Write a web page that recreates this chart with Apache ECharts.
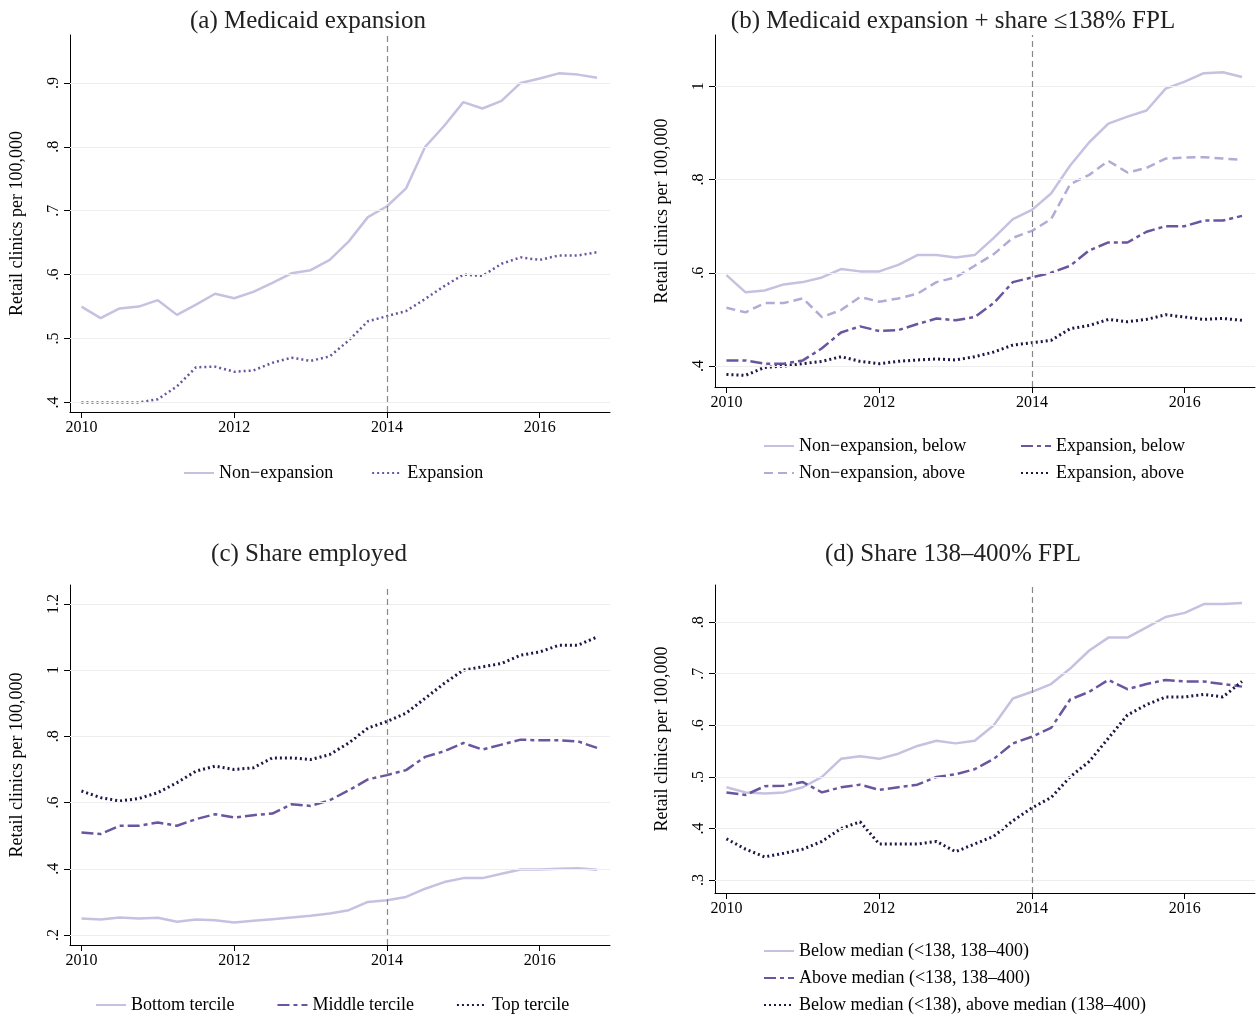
<!DOCTYPE html>
<html><head><meta charset="utf-8">
<script src="https://cdn.jsdelivr.net/npm/echarts@6/dist/echarts.min.js"></script>
<style>body{margin:0}#main{width:1259px;height:1015px}</style>
</head><body><div id="main"></div>
<script>
// quarters 2010.00 .. 2016.75
var quarters = [];
for (var i = 0; i < 28; i++) quarters.push(2010 + i * 0.25);
var xTicks = [2010, 2012, 2014, 2016];

var aNonExp = [.55,.532,.547,.55,.56,.537,.553,.57,.563,.573,.587,.602,.607,.623,.652,.69,.707,.735,.80,.833,.87,.86,.872,.90,.907,.915,.913,.908];
var aExp = [.40,.40,.40,.40,.405,.425,.455,.456,.448,.45,.462,.47,.465,.472,.497,.527,.535,.543,.562,.582,.60,.598,.617,.627,.623,.63,.63,.635];

var bNonBelow = [.595,.558,.562,.575,.58,.59,.608,.603,.603,.617,.638,.638,.633,.638,.675,.715,.735,.77,.83,.88,.92,.935,.948,.995,1.01,1.028,1.03,1.02];
var bNonAbove = [.525,.515,.535,.535,.545,.505,.52,.548,.538,.545,.555,.58,.59,.615,.64,.675,.69,.715,.79,.81,.84,.815,.825,.845,.847,.848,.845,.842];
var bExpBelow = [.412,.412,.405,.405,.412,.438,.472,.485,.475,.477,.49,.502,.498,.505,.535,.58,.59,.60,.615,.648,.665,.665,.688,.70,.70,.712,.712,.722];
var bExpAbove = [.382,.38,.397,.4,.405,.41,.42,.41,.405,.41,.413,.415,.413,.42,.43,.445,.45,.455,.48,.487,.5,.495,.5,.51,.505,.5,.502,.498];

var cBottom = [.25,.247,.253,.25,.252,.24,.247,.245,.238,.243,.248,.253,.258,.265,.275,.30,.305,.315,.34,.36,.372,.372,.385,.398,.398,.40,.402,.397];
var cMiddle = [.51,.505,.53,.53,.54,.53,.55,.565,.555,.562,.567,.595,.59,.607,.637,.67,.683,.698,.738,.755,.78,.76,.775,.79,.788,.788,.785,.765];
var cTop = [.635,.615,.605,.612,.63,.66,.695,.71,.7,.705,.735,.735,.73,.745,.78,.825,.845,.87,.915,.96,1.0,1.01,1.02,1.045,1.055,1.075,1.075,1.1];

var dBelow = [.48,.47,.468,.47,.48,.5,.535,.54,.535,.545,.56,.57,.565,.57,.6,.652,.665,.68,.71,.745,.77,.77,.79,.81,.818,.835,.835,.837];
var dAbove = [.47,.465,.482,.483,.49,.47,.48,.485,.475,.48,.485,.5,.505,.515,.535,.565,.578,.595,.65,.665,.688,.67,.68,.688,.685,.685,.68,.675];
var dMixed = [.38,.36,.345,.352,.36,.375,.4,.413,.37,.37,.37,.375,.355,.37,.385,.415,.44,.46,.5,.53,.575,.62,.64,.655,.655,.66,.655,.685];

var C1 = '#c6c1e0', C2 = '#b2abd6', C3 = '#6a559f', C4 = '#1d1646';
var serif = 'Liberation Serif';
var solid = 'solid', dash = [9, 5], dashDot = [12, 4, 4, 4], dot = [2, 3];

function pairs(v) { return v.map(function (y, i) { return [quarters[i], y]; }); }
function fmt(v) { var s = String(Math.round(v * 10) / 10); return s.replace(/^0\./, '.'); }

var grids = [
  {left: 70, top: 35, width: 540, height: 377},
  {left: 715, top: 35, width: 540, height: 352},
  {left: 70, top: 585, width: 540, height: 360},
  {left: 715, top: 585, width: 540, height: 308}
];
var yr = [[.385, .975, [.4,.5,.6,.7,.8,.9]], [.355, 1.11, [.4,.6,.8,1]], [.17, 1.257, [.2,.4,.6,.8,1,1.2]], [.275, .872, [.3,.4,.5,.6,.7,.8]]];

var xAxis = grids.map(function (g, i) {
  return {type: 'value', gridIndex: i, min: 2009.85, max: 2016.92,
    axisLine: {show: true, onZero: false, lineStyle: {color: '#000'}},
    axisTick: {show: true, length: 6, customValues: xTicks, lineStyle: {color: '#000'}},
    axisLabel: {customValues: xTicks, color: '#000', fontFamily: serif, fontSize: 16, margin: 8, formatter: function (v) { return String(v); }},
    splitLine: {show: false}};
});
var yAxis = grids.map(function (g, i) {
  return {type: 'value', gridIndex: i, min: yr[i][0], max: yr[i][1],
    name: 'Retail clinics per 100,000', nameLocation: 'middle', nameGap: 44, nameRotate: 90,
    nameTextStyle: {fontFamily: serif, fontSize: 18, color: '#000'},
    axisLine: {show: true, lineStyle: {color: '#000'}},
    axisTick: {show: true, length: 6, customValues: yr[i][2], lineStyle: {color: '#000'}},
    axisLabel: {customValues: yr[i][2], rotate: 90, color: '#000', fontFamily: serif, fontSize: 16, margin: 8, formatter: fmt},
    splitLine: {show: false}};
});

var series = [];
function add(gi, name, data, color, type, width) {
  series.push({type: 'line', name: name, xAxisIndex: gi, yAxisIndex: gi, data: pairs(data),
    symbol: 'none', lineStyle: {color: color, type: type, width: width || 2.5}, itemStyle: {color: color}});
}
// gridlines + 2014 reference line
yr.forEach(function (r, gi) {
  series.push({type: 'line', xAxisIndex: gi, yAxisIndex: gi, data: [], silent: true,
    markLine: {symbol: 'none', silent: true, label: {show: false},
      data: r[2].map(function (v) { return {yAxis: v, lineStyle: {color: '#eeeeee', type: 'solid', width: 1}}; })
        .concat([{xAxis: 2014, lineStyle: {color: '#888', type: [6, 4], width: 1.2}}])}});
});
add(0, 'Non\u2212expansion', aNonExp, C1, solid);
add(0, 'Expansion', aExp, C3, dot, 2.5);
add(1, 'Non\u2212expansion, below', bNonBelow, C1, solid);
add(1, 'Non\u2212expansion, above', bNonAbove, C2, dash);
add(1, 'Expansion, below', bExpBelow, C3, dashDot);
add(1, 'Expansion, above', bExpAbove, C4, dot, 3);
add(2, 'Bottom tercile', cBottom, C1, solid);
add(2, 'Middle tercile', cMiddle, C3, dashDot);
add(2, 'Top tercile', cTop, C4, dot, 3);
add(3, 'Below median (<138, 138\u2013400)', dBelow, C1, solid);
add(3, 'Above median (<138, 138\u2013400)', dAbove, C3, dashDot);
add(3, 'Below median (<138), above median (138\u2013400)', dMixed, C4, dot, 3);

function legend(names, pos, orient, gap) {
  return Object.assign({data: names, orient: orient || 'horizontal', itemWidth: 30, itemHeight: 10, itemGap: gap || 22,
    height: 200, width: 600, itemStyle: {opacity: 0},
    textStyle: {fontFamily: serif, fontSize: 18, color: '#000'}}, pos);
}
var legends = [
  legend(['Non\u2212expansion', 'Expansion'], {left: 178, top: 459}, 'horizontal', 38),
  legend(['Non\u2212expansion, below', 'Non\u2212expansion, above'], {left: 758, top: 432}, 'vertical', 9),
  legend(['Expansion, below', 'Expansion, above'], {left: 1015, top: 432}, 'vertical', 9),
  legend(['Bottom tercile', 'Middle tercile', 'Top tercile'], {left: 90, top: 991}, 'horizontal', 42),
  legend(['Below median (<138, 138\u2013400)', 'Above median (<138, 138\u2013400)', 'Below median (<138), above median (138\u2013400)'], {left: 758, top: 937}, 'vertical', 9)
];

var titles = [
  {text: '(a) Medicaid expansion', left: 303, top: 4},
  {text: '(b) Medicaid expansion + share \u2264138% FPL', left: 948, top: 4},
  {text: '(c) Share employed', left: 304, top: 537},
  {text: '(d) Share 138\u2013400% FPL', left: 948, top: 537}
].map(function (t) { t.textAlign = 'center'; t.textStyle = {fontFamily: serif, fontSize: 25, fontWeight: 'normal', color: '#222'}; return t; });

var myChart = echarts.init(document.getElementById('main'));
myChart.setOption({
  animation: false, backgroundColor: '#fff',
  title: titles, legend: legends, grid: grids, xAxis: xAxis, yAxis: yAxis, series: series
});
</script></body></html>
